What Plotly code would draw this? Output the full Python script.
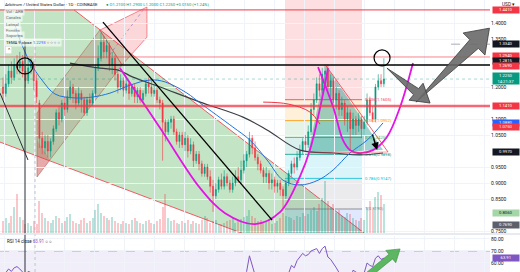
import plotly.graph_objects as go

# ---------------- data ----------------
opens = [1.20,1.18,1.21,1.25,1.23,1.27,1.26,1.28,1.25,1.22,1.26,1.27,1.22,1.15,1.04,1.01,1.03,1.00,1.03,1.07,
         1.12,1.10,1.15,1.13,1.17,1.20,1.18,1.15,1.18,1.16,1.12,1.16,1.15,1.18,1.26,1.29,1.34,1.31,1.33,1.27,
         1.29,1.24,1.20,1.22,1.19,1.21,1.18,1.20,1.17,1.19,1.16,1.18,1.21,1.20,1.18,1.19,1.16,1.15,1.09,1.06,
         1.09,1.10,1.06,1.03,1.05,1.02,1.04,1.00,1.02,0.97,0.99,0.96,0.93,0.95,0.92,0.89,0.86,0.88,0.91,0.89,
         0.92,0.90,0.88,0.90,0.92,0.91,0.94,0.97,0.99,1.04,1.01,0.98,0.96,0.94,0.92,0.93,0.90,0.91,0.89,0.90,
         0.88,0.86,0.90,0.93,0.96,0.95,0.98,1.00,1.03,1.02,1.06,1.13,1.16,1.21,1.19,1.24,1.25,1.20,1.22,1.16,
         1.18,1.13,1.15,1.10,1.12,1.07,1.10,1.08,1.10,1.07,1.09,1.16,1.12,1.10,1.20,1.22,1.21]
closes = [1.18,1.21,1.25,1.23,1.27,1.26,1.28,1.25,1.22,1.26,1.27,1.22,1.17,1.04,1.01,1.03,1.00,1.03,1.07,1.12,
          1.10,1.15,1.13,1.17,1.20,1.18,1.15,1.18,1.16,1.12,1.16,1.15,1.18,1.26,1.29,1.34,1.31,1.33,1.27,1.29,
          1.24,1.20,1.22,1.19,1.21,1.18,1.20,1.17,1.19,1.16,1.18,1.21,1.20,1.18,1.19,1.16,1.15,1.09,1.06,1.09,
          1.10,1.06,1.03,1.05,1.02,1.04,1.00,1.02,0.97,0.99,0.96,0.93,0.95,0.92,0.89,0.86,0.88,0.91,0.89,0.92,
          0.90,0.88,0.90,0.92,0.91,0.94,0.97,0.99,1.04,1.01,0.98,0.96,0.94,0.92,0.93,0.90,0.91,0.89,0.90,0.88,
          0.86,0.90,0.93,0.96,0.95,0.98,1.00,1.03,1.02,1.06,1.13,1.16,1.21,1.19,1.24,1.25,1.20,1.22,1.16,1.18,
          1.13,1.15,1.10,1.12,1.07,1.10,1.08,1.10,1.07,1.09,1.16,1.12,1.10,1.20,1.22,1.21,1.225]
highs = [1.23,1.24,1.27,1.28,1.29,1.30,1.31,1.30,1.27,1.29,1.29,1.28,1.24,1.16,1.06,1.05,1.05,1.04,1.08,1.13,
         1.14,1.16,1.17,1.19,1.22,1.21,1.19,1.20,1.19,1.17,1.17,1.18,1.19,1.27,1.33,1.37,1.36,1.35,1.34,1.31,
         1.30,1.25,1.24,1.23,1.23,1.22,1.21,1.21,1.20,1.20,1.19,1.22,1.23,1.22,1.21,1.20,1.17,1.16,1.10,1.10,
         1.11,1.11,1.07,1.06,1.06,1.06,1.05,1.04,1.03,1.00,1.00,0.97,0.96,0.96,0.94,0.91,0.90,0.92,0.93,0.94,
         0.93,0.91,0.92,0.94,0.95,0.97,0.99,1.00,1.06,1.05,1.03,0.99,0.97,0.95,0.95,0.94,0.93,0.92,0.91,0.91,
         0.89,0.91,0.94,0.97,0.98,1.00,1.02,1.04,1.05,1.08,1.15,1.18,1.23,1.24,1.26,1.27,1.27,1.24,1.23,1.20,
         1.19,1.17,1.16,1.14,1.13,1.12,1.11,1.12,1.11,1.11,1.18,1.17,1.14,1.21,1.24,1.24,1.29]
lows = [1.16,1.17,1.20,1.21,1.22,1.24,1.24,1.23,1.20,1.21,1.24,1.19,1.15,1.01,0.99,0.99,0.98,0.98,1.02,1.06,
        1.08,1.09,1.11,1.12,1.16,1.15,1.13,1.14,1.12,1.11,1.11,1.14,1.14,1.17,1.25,1.28,1.29,1.29,1.25,1.24,
        1.22,1.18,1.19,1.17,1.18,1.16,1.17,1.15,1.15,1.15,1.15,1.17,1.18,1.17,1.17,1.15,1.13,0.97,1.03,1.05,
        1.07,1.05,1.02,1.01,1.01,1.00,0.98,0.99,0.95,0.96,0.94,0.92,0.92,0.91,0.87,0.81,0.85,0.87,0.88,0.88,
        0.89,0.87,0.87,0.89,0.90,0.90,0.93,0.95,0.98,0.99,0.97,0.94,0.93,0.90,0.90,0.88,0.88,0.87,0.87,0.86,
        0.82,0.85,0.89,0.92,0.93,0.94,0.97,0.99,1.00,1.01,1.05,1.11,1.15,1.17,1.18,1.22,1.19,1.17,1.15,1.13,
        1.11,1.11,1.08,1.06,1.00,1.05,1.05,1.06,1.04,1.05,1.08,1.11,1.09,1.09,1.19,1.20,1.20]
volumes = [20,25,18,30,45,67,28,22,15,18,12,20,16,55,
           35,25,20,18,22,30,25,18,20,28,32,20,18,15,22,25,18,20,26,
           40,50,35,30,25,
           22,28,20,18,15,20,18,16,22,25,20,18,15,20,22,18,15,20,24,
           45,67,
           25,20,22,18,15,20,18,22,16,20,18,15,22,30,25,18,20,22,16,15,18,20,22,25,18,20,24,28,30,
           40,
           30,25,20,22,18,20,22,16,18,20,25,
           35,30,28,25,22,30,28,35,30,32,
           40,45,38,50,60,90,55,
           45,50,35,40,30,28,35,32,25,22,20,25,22,
           45,55,40,62,70,65,50]
rsi = [50,52,55,53,56,57,55,52,50,53,52,48,45,
       35,32,34,31,35,40,45,44,48,46,49,51,49,46,48,47,44,47,46,48,51,50,51,
       50,49,46,47,44,42,44,42,43,41,43,41,42,40,42,44,43,41,42,40,39,
       30,28,32,34,30,28,31,29,31,28,30,26,29,27,25,28,26,24,22,26,30,28,32,30,29,31,34,33,40,46,53,
       66,56,50,46,43,40,42,38,40,37,39,36,
       34,45,52,58,56,62,65,68,66,67,70,
       71,72,68,72,74,65,63,60,56,52,
       50,47,50,45,54,53,51,48,52,
       60,58,57,64,66,63,64]

price_ticks = [0.75,0.85,0.90,0.95,1.05,1.10,1.20,1.35,1.40]
price_tick_text = ["0.7500","0.8500","0.9000","0.9500","1.0500","1.1000",
                   "1.2000","1.3500","1.4000"]
rsi_ticks = [60,70,80]
rsi_tick_text = ["60.00","70.00","80.00"]

# indicator / drawing series (bar index, price)
ma_blue_x = [4.3,6.07,9.64,13.9,18.6,25.7,32.1,38.2,45.4,52.5,57.9,65.7,70.4,82.1,88.2,94.3,100,106.1,112.5,117.9,123.9,130,135.7]
ma_blue_y = [1.394,1.347,1.278,1.222,1.178,1.166,1.169,1.181,1.206,1.222,1.216,1.181,1.150,1.075,1.034,0.972,0.909,0.894,0.909,0.941,0.994,1.034,1.088]
ma_grey_x = [23.9,34.6,41.1,46.4,56.1,70.4,85.7,94.3,106.1,117.9,127.5,135.7]
ma_grey_y = [1.275,1.259,1.253,1.231,1.200,1.153,1.106,1.066,1.003,0.994,0.988,0.994]
trend_red_x = [92.9,101.8,109.6,113.2]
trend_red_y = [1.153,1.147,1.122,1.084]
arc_big_x = [41.8,56.1,70.4,79.3,90,98.9,106.1,109.6,113.2,116.1]
arc_big_y = [1.259,1.072,0.884,0.806,0.772,0.809,0.922,1.003,1.134,1.259]
arc_small_x = [112.5,117.9,121.4,123.9,126.8,132.1,137.1,141.8,146.4]
arc_small_y = [1.2625,1.1375,1.034,1.003,0.994,1.003,1.044,1.1375,1.275]

fib_high, fib_low = 1.266, 0.819
fib_levels = [0.236, 0.382, 0.5, 0.618, 0.786, 1.0, 1.272]
fib_colors = ["242,54,69", "255,152,0", "76,175,80", "8,153,129", "0,188,212", "120,123,134", "41,98,255"]
fib_x0, fib_x1 = 100.7, 128.2

tags = [(1.441, '#f23645', 'white', '1.4410'), (1.334, '#131722', 'white', '1.3340'),
        (1.296, '#f23645', 'white', '1.2940'), (1.2815, '#131722', 'white', '1.2815'),
        (1.267, '#f23645', 'white', '1.2690'), (1.227, '#089981', 'white', '1.2250<br>14:21:37'),
        (1.141, '#f23645', 'white', '1.1410'), (1.089, '#2962ff', 'white', '1.0880'),
        (1.074, '#f23645', 'white', '1.0750'), (0.997, '#131722', 'white', '0.9970'),
        (0.806, '#a5d6a7', '#131722', '0.8060'), (0.769, '#5d606b', 'white', '0.7690')]

# ---------------- figure ----------------
n = len(closes)
bars = list(range(n))
XD = 490 / 520
fig = go.Figure()

vcol = ['rgba(8,153,129,0.28)' if c >= o else 'rgba(242,54,69,0.28)' for o, c in zip(opens, closes)]
fig.add_trace(go.Bar(x=list(range(len(volumes))), y=volumes, marker=dict(color=vcol, line=dict(width=0)),
                     width=0.7, xaxis='x', yaxis='y', showlegend=False, hoverinfo='skip'))
fig.add_trace(go.Candlestick(x=bars, open=opens, high=highs, low=lows, close=closes, xaxis='x', yaxis='y2',
                             increasing=dict(line=dict(color='#089981', width=0.6), fillcolor='#089981'),
                             decreasing=dict(line=dict(color='#f23645', width=0.6), fillcolor='#f23645'),
                             whiskerwidth=0, showlegend=False))
fig.add_trace(go.Scatter(x=ma_grey_x, y=ma_grey_y, mode='lines', line=dict(color='#3a3d45', width=1.2, shape='spline'),
                         xaxis='x', yaxis='y2', showlegend=False, hoverinfo='skip'))
fig.add_trace(go.Scatter(x=ma_blue_x, y=ma_blue_y, mode='lines', line=dict(color='#1e74e0', width=1, shape='spline'),
                         xaxis='x', yaxis='y2', showlegend=False, hoverinfo='skip'))
fig.add_trace(go.Scatter(x=trend_red_x, y=trend_red_y, mode='lines', line=dict(color='#f23645', width=1, shape='spline'),
                         xaxis='x', yaxis='y2', showlegend=False, hoverinfo='skip'))
for ax_, ay_ in [(arc_big_x, arc_big_y), (arc_small_x, arc_small_y)]:
    fig.add_trace(go.Scatter(x=ax_, y=ay_, mode='lines', line=dict(color='rgb(228,20,228)', width=1.8, shape='spline'),
                             xaxis='x', yaxis='y2', showlegend=False, hoverinfo='skip'))
fig.add_trace(go.Scatter(x=list(range(len(rsi))), y=rsi, mode='lines', line=dict(color='#7e57c2', width=1),
                         xaxis='x', yaxis='y3', showlegend=False, hoverinfo='skip'))

shapes = []


def poly(pts, fill, line='rgba(0,0,0,0)', lw=0, layer='below', yref='y2'):
    path = 'M ' + ' L '.join(f'{x},{y}' for x, y in pts) + ' Z'
    shapes.append(dict(type='path', path=path, xref='x', yref=yref, fillcolor=fill,
                       line=dict(color=line, width=lw), layer=layer))


def seg(x0, y0, x1, y1, color, width=1, dash='solid', layer='above', xref='x', yref='y2'):
    shapes.append(dict(type='line', x0=x0, y0=y0, x1=x1, y1=y1, xref=xref, yref=yref,
                       line=dict(color=color, width=width, dash=dash), layer=layer))


# green falling wedge
poly([(-1.07, 1.441), (25.4, 1.441), (134.6, 0.706), (134.6, 0.581), (-1.07, 1.028)], 'rgba(76,175,80,0.33)')
seg(25.4, 1.441, 134.6, 0.706, 'rgba(242,54,69,0.8)', 1, layer='below')
seg(-1.07, 1.028, 134.6, 0.581, 'rgba(242,54,69,0.8)', 1, layer='below')
# rising channel (tan) + pink extension
poly([(12.14, 1.119), (34.6, 1.378), (42.5, 1.269), (12.14, 0.919)], 'rgba(150,110,90,0.28)', 'rgba(170,100,80,0.7)', 0.8)
poly([(34.6, 1.378), (51.4, 1.450), (51.4, 1.356), (42.5, 1.269)], 'rgba(242,54,69,0.2)', 'rgba(242,54,69,0.7)', 0.8)
poly([(12.14, 1.034), (12.14, 0.919), (16.8, 0.972)], 'rgba(242,54,69,0.28)')
seg(38.0, 1.300, 50.0, 1.440, 'rgba(120,100,200,0.7)', 0.8, 'dot', layer='below')
# pink zone + fib retracement bands
fib_prices = [fib_high - l * (fib_high - fib_low) for l in fib_levels]
poly([(fib_x0, fib_prices[0]), (fib_x0, 1.472), (fib_x1, 1.472), (fib_x1, fib_prices[0])], 'rgba(242,54,69,0.16)')
for i in range(len(fib_levels) - 1):
    poly([(fib_x0, fib_prices[i]), (fib_x0, fib_prices[i + 1]), (fib_x1, fib_prices[i + 1]), (fib_x1, fib_prices[i])],
         f'rgba({fib_colors[i + 1]},0.15)')
for l, p, c in zip(fib_levels[:-1], fib_prices[:-1], fib_colors[:-1]):
    seg(fib_x0, p, fib_x1, p, f'rgb({c})', 0.8, layer='below')
# teal triangle
poly([(115.4, 1.266), (108.9, 0.994), (135.7, 1.003)], 'rgba(0,140,125,0.38)')
seg(115.4, 1.266, 137.5, 0.997, 'rgba(242,54,69,0.8)', 1)
seg(108.9, 0.994, 137.5, 0.997, 'rgba(242,54,69,0.6)', 0.8)

# horizontal levels
seg(0, 1.441, XD, 1.441, '#f23645', 1, xref='paper')
seg(0, 1.294, XD, 1.294, 'rgba(242,54,69,0.6)', 1, xref='paper')
seg(0, 1.269, XD, 1.269, '#000000', 1.4, xref='paper')
seg(0, 1.141, XD, 1.141, 'rgba(242,54,69,0.75)', 2.6, xref='paper')
seg(0, 1.225, XD, 1.225, 'rgba(8,153,129,0.45)', 0.8, 'dot', xref='paper')
seg(160, 1.334, 173.9, 1.334, '#9598a1', 0.8, 'dash')
# vertical lines
shapes.append(dict(type='line', xref='x', yref='paper', x0=7.86, x1=7.86, y0=0, y1=0.846,
                   line=dict(color='#2a2e39', width=1), layer='above'))
shapes.append(dict(type='line', xref='x', yref='paper', x0=11.43, x1=11.43, y0=0, y1=0.85,
                   line=dict(color='#b2b5be', width=0.8, dash='dot'), layer='above'))
# black trend lines
seg(35.7, 1.403, 96.1, 0.784, '#000000', 1.3)
seg(-1.07, 1.181, 8.93, 0.972, '#2a2e39', 1)
# circles
shapes.append(dict(type='circle', xref='x', yref='y2', x0=5.0, x1=10.7, y0=1.241, y1=1.291,
                   line=dict(color='#000', width=1.2), layer='above'))
shapes.append(dict(type='circle', xref='x', yref='y2', x0=132.5, x1=138.2, y0=1.266, y1=1.316,
                   line=dict(color='#000', width=1.2), layer='above'))
# grey arrows
poly([(147.5, 1.153), (169.75, 1.321), (172.1, 1.300), (173.7, 1.384), (164.3, 1.369), (166.7, 1.348)],
     'rgba(105,105,105,0.9)', '#3a3a3a', 0.8, layer='above')
poly([(137.1, 1.259), (148.4, 1.195), (150.0, 1.212), (152.5, 1.150), (145.0, 1.159), (146.6, 1.176)],
     'rgba(105,105,105,0.9)', '#3a3a3a', 0.8, layer='above')
# RSI pane
shapes.append(dict(type='rect', xref='paper', yref='y3', x0=0, x1=XD, y0=30, y1=70,
                   fillcolor='rgba(126,87,194,0.1)', line=dict(width=0), layer='below'))
seg(0, 70, XD, 70, '#9598a1', 0.8, 'dash', layer='below', xref='paper', yref='y3')
poly([(131.05, 48.1), (139.1, 63.4), (140.25, 60.2), (141.8, 71.7), (136.7, 70.5), (137.8, 67.25), (129.7, 51.9)],
     'rgba(76,175,80,0.9)', 'rgba(56,142,60,1)', 0.6, layer='above', yref='y3')
# pane separator
shapes.append(dict(type='line', xref='paper', yref='paper', x0=0, x1=1, y0=0.1397, y1=0.1397,
                   line=dict(color='#e0e3eb', width=1.5), layer='above'))

ann = []
ann.append(dict(x=133.6, y=1.003, ax=131.8, ay=1.056, xref='x', yref='y2', axref='x', ayref='y2',
                showarrow=True, arrowhead=2, arrowsize=1, arrowwidth=1.5, arrowcolor='#000', text=''))
for l, p, c in zip(fib_levels[:-1], fib_prices[:-1], fib_colors[:-1]):
    ann.append(dict(x=fib_x1 + 0.3, y=p, xref='x', yref='y2', xanchor='left', yanchor='middle', showarrow=False,
                    text=f'{l:g}({p:.4f})', font=dict(size=4.2, color=f'rgb({c})')))
for p, bg, fg, t in tags:
    ann.append(dict(x=XD + 0.004, y=p, xref='paper', yref='y2', xanchor='left', yanchor='middle', showarrow=False,
                    text=t, bgcolor=bg, font=dict(size=4.2, color=fg), borderpad=0.3, width=25, align='center'))
ann.append(dict(x=XD + 0.004, y=63.9, xref='paper', yref='y3', xanchor='left', yanchor='middle', showarrow=False,
                text='63.91', bgcolor='#7e57c2', font=dict(size=4.2, color='white'), borderpad=0.3, width=25))
ann.append(dict(x=0.006, y=0.982, xref='paper', yref='paper', xanchor='left', yanchor='middle', showarrow=False,
                text='Arbitrum / United States Dollar · 1D · COINBASE', font=dict(size=4.4, color='#131722')))
ann.append(dict(x=0.2, y=0.982, xref='paper', yref='paper', xanchor='left', yanchor='middle', showarrow=False,
                text='● O1.2100 H1.2900 L1.2000 C1.2250 +0.0150 (+1.24%)', font=dict(size=4.2, color='#089981')))
legend_rows = ['Vol · ARB', 'Canales', 'Lateral', 'Fondos', 'Soportes']
for k, t in enumerate(legend_rows):
    ann.append(dict(x=0.008, y=1 - (12 + k * 6) / 272, xref='paper', yref='paper', xanchor='left', yanchor='middle',
                    showarrow=False, text=t, font=dict(size=4.2, color='#6a6d78'), bgcolor='rgba(255,255,255,0.6)'))
ann.append(dict(x=0.008, y=1 - 42 / 272, xref='paper', yref='paper', xanchor='left', yanchor='middle', showarrow=False,
                text='TEMA 9 close <span style="color:#2962ff">1.2293</span> ○ ○ ○ ○', font=dict(size=4.2, color='#131722'),
                bgcolor='rgba(255,255,255,0.6)'))
ann.append(dict(x=0.01, y=1 - 50 / 272, xref='paper', yref='paper', xanchor='left', yanchor='middle', showarrow=False,
                text='⌃', font=dict(size=4.5, color='#131722'), bordercolor='#d1d4dc', borderwidth=0.5, bgcolor='white'))
ann.append(dict(x=0.01, y=1 - 241 / 272, xref='paper', yref='paper', xanchor='left', yanchor='middle', showarrow=False,
                text='RSI 14 close <span style="color:#7e57c2">63.91</span> ○ ○', font=dict(size=4.5, color='#131722')))
ann.append(dict(x=0.995, y=0.982, xref='paper', yref='paper', xanchor='right', yanchor='middle', showarrow=False,
                text='USD ▾', font=dict(size=4.8, color='#131722')))

fig.update_layout(
    width=520, height=272, margin=dict(l=0, r=0, t=0, b=0),
    paper_bgcolor='white', plot_bgcolor='white', font=dict(family='Roboto', size=6, color='#131722'),
    showlegend=False, bargap=0, boxgap=0.45, shapes=shapes, annotations=ann,
    xaxis=dict(domain=[0, XD], anchor='y', range=[-1.07, 173.9], rangeslider=dict(visible=False),
               showticklabels=False, showgrid=True, gridcolor='#f0f3fa', tick0=0.7, dtick=10.7,
               zeroline=False, showline=False, ticks=''),
    yaxis=dict(domain=[0.1434, 1], range=[0, 400], visible=False, fixedrange=True),
    yaxis2=dict(domain=[0.1434, 1], overlaying='y', side='right', anchor='x', range=[0.744, 1.472],
                tickvals=price_ticks, ticktext=price_tick_text, tickfont=dict(size=5, color='#131722'),
                showgrid=True, gridcolor='#f0f3fa', zeroline=False, showline=False, ticks=''),
    yaxis3=dict(domain=[0, 0.1324], anchor='x', side='right', range=[52.5, 82.5],
                tickvals=rsi_ticks, ticktext=rsi_tick_text, tickfont=dict(size=5, color='#131722'),
                showgrid=True, gridcolor='#f0f3fa', zeroline=False, showline=False, ticks=''),
)

fig.write_html('out.html')
